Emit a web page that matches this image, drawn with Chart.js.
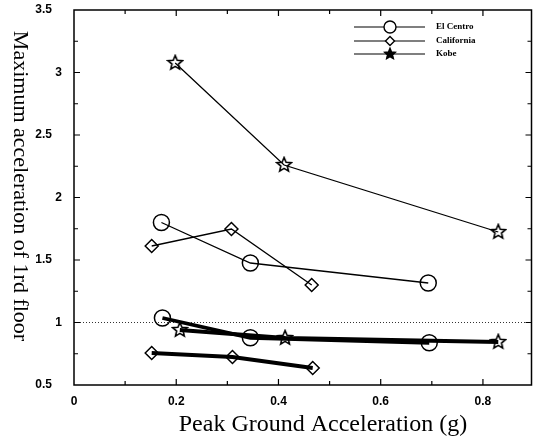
<!DOCTYPE html>
<html>
<head>
<meta charset="utf-8">
<script src="https://cdn.jsdelivr.net/npm/chart.js@4/dist/chart.umd.min.js"></script>
<style>
    html, body { margin: 0; padding: 0; background: #fff; }
    #wrap { width: 541px; height: 439px; }
</style>
</head>
<body>
<div id="wrap"><canvas id="chart"></canvas></div>
<script>
// axis ranges and tick labels
const X_MIN = 0, X_MAX = 0.895;
const Y_MIN = 0.5, Y_MAX = 3.5;
const xTicks = [0, 0.2, 0.4, 0.6, 0.8];
const yTicks = [0.5, 1, 1.5, 2, 2.5, 3, 3.5];

// series (upper = thin lines, lower = thick lines)
const elCentroX = [0.171, 0.345, 0.693];
const elCentroY = [1.80, 1.476, 1.316];
const elCentroLowX = [0.173, 0.345, 0.695];
const elCentroLowY = [1.036, 0.878, 0.838];

const californiaX = [0.152, 0.308, 0.465];
const californiaY = [1.612, 1.748, 1.30];
const californiaLowX = [0.152, 0.31, 0.467];
const californiaLowY = [0.756, 0.724, 0.636];

const kobeX = [0.198, 0.411, 0.830];
const kobeY = [3.076, 2.26, 1.724];
const kobeLowX = [0.207, 0.413, 0.830];
const kobeLowY = [0.94, 0.876, 0.844];

// dotted reference line at 1.0
const refX = [X_MIN, X_MAX];
const refY = [1, 1];

const legendNames = ['El Centro', 'California', 'Kobe'];

function pts(xs, ys) {
    return xs.map((x, i) => ({ x, y: ys[i] }));
}

function starImage(size, outer, inner, filled) {
    const c = document.createElement('canvas');
    c.width = size; c.height = size;
    const g = c.getContext('2d');
    const cx = size / 2, cy = size / 2;
    g.beginPath();
    for (let i = 0; i < 10; i++) {
        const r = i % 2 === 0 ? outer : inner;
        const a = -Math.PI / 2 + i * Math.PI / 5;
        const px = cx + r * Math.cos(a), py = cy + r * Math.sin(a);
        if (i === 0) g.moveTo(px, py); else g.lineTo(px, py);
    }
    g.closePath();
    g.lineWidth = 1.6;
    g.strokeStyle = '#000';
    if (filled) { g.fillStyle = '#000'; g.fill(); }
    g.stroke();
    return c;
}

const starPt = starImage(18, 7.5, 3.4, false);
const starLegend = starImage(14, 5.5, 2.5, true);

function series(label, xs, ys, style, radius, width) {
    return {
        label,
        data: pts(xs, ys),
        showLine: true,
        borderColor: '#000',
        borderWidth: width,
        backgroundColor: 'rgba(0,0,0,0)',
        pointStyle: style,
        pointRadius: radius,
        pointBorderWidth: 1.5,
        pointBorderColor: '#000',
        pointBackgroundColor: 'rgba(0,0,0,0)',
        tension: 0
    };
}

const datasets = [
    series('El Centro', elCentroX, elCentroY, 'circle', 8, 1.3),
    series('California', californiaX, californiaY, 'rectRot', 6.5, 1.3),
    series('Kobe', kobeX, kobeY, starPt, 8, 1.3),
    series('', elCentroLowX, elCentroLowY, 'circle', 8, 3.8),
    series('', californiaLowX, californiaLowY, 'rectRot', 6.5, 3.8),
    series('', kobeLowX, kobeLowY, starPt, 8, 3.8),
    {
        label: '',
        data: pts(refX, refY),
        showLine: true,
        borderColor: '#333',
        borderWidth: 1,
        borderDash: [1, 2],
        pointRadius: 0
    }
];

// box, inward ticks, tick labels, axis titles and legend
const framePlugin = {
    id: 'frame',
    afterDraw(chart) {
        const { ctx, chartArea: a, scales } = chart;
        const xs = scales.x, ys = scales.y;
        ctx.save();
        ctx.strokeStyle = '#000';
        ctx.lineWidth = 1.5;
        ctx.strokeRect(a.left, a.top, a.right - a.left, a.bottom - a.top);

        ctx.lineWidth = 1.2;
        ctx.beginPath();
        for (let v = 0.1; v < X_MAX; v += 0.1) {
            const px = xs.getPixelForValue(v);
            const major = Math.abs(v / 0.2 - Math.round(v / 0.2)) < 1e-6;
            const len = major ? 6 : 4;
            ctx.moveTo(px, a.bottom); ctx.lineTo(px, a.bottom - len);
            ctx.moveTo(px, a.top); ctx.lineTo(px, a.top + len);
        }
        for (let v = Y_MIN + 0.25; v < Y_MAX; v += 0.25) {
            const py = ys.getPixelForValue(v);
            const major = Math.abs(v / 0.5 - Math.round(v / 0.5)) < 1e-6;
            const len = major ? 6 : 4;
            ctx.moveTo(a.left, py); ctx.lineTo(a.left + len, py);
            ctx.moveTo(a.right, py); ctx.lineTo(a.right - len, py);
        }
        ctx.stroke();

        // y tick labels (whole numbers sit further right, as in the figure)
        ctx.fillStyle = '#000';
        ctx.font = 'bold 12px "Liberation Sans"';
        ctx.textAlign = 'right';
        ctx.textBaseline = 'middle';
        yTicks.forEach(v => {
            const px = Number.isInteger(v) ? 62 : 52;
            ctx.fillText(String(v), px, ys.getPixelForValue(v));
        });

        // x title
        ctx.font = '24px "Liberation Serif"';
        ctx.textAlign = 'center';
        ctx.textBaseline = 'middle';
        ctx.fillText('Peak Ground Acceleration (g)', 323, 425);

        // y title, reading top to bottom
        ctx.font = '22px "Liberation Serif"';
        ctx.translate(20, 186);
        ctx.rotate(Math.PI / 2);
        ctx.fillText('Maximum acceleration of 1rd floor', 0, 0);
        ctx.restore();

        // legend
        ctx.save();
        const styles = ['circle', 'rectRot', 'star'];
        const rows = [27, 41, 54];
        legendNames.forEach((name, i) => {
            const y = rows[i];
            ctx.strokeStyle = '#000';
            ctx.lineWidth = 1.2;
            ctx.beginPath();
            ctx.moveTo(354, y); ctx.lineTo(425, y);
            ctx.stroke();
            ctx.lineWidth = 1.4;
            if (styles[i] === 'star') {
                ctx.drawImage(starLegend, 390 - 7, y - 7);
            } else {
                ctx.fillStyle = '#fff';
                Chart.helpers.drawPoint(ctx, { pointStyle: styles[i], radius: i === 0 ? 6 : 4.5, borderWidth: 1.4 }, 390, y);
            }
            ctx.fillStyle = '#000';
            ctx.font = 'bold 9px "Liberation Serif"';
            ctx.textBaseline = 'middle';
            ctx.textAlign = 'left';
            ctx.fillText(name, 436, y);
        });
        ctx.restore();
    }
};

new Chart(document.getElementById('chart'), {
    type: 'scatter',
    data: { datasets },
    plugins: [framePlugin],
    options: {
        responsive: true,
        maintainAspectRatio: false,
        animation: false,
        layout: { padding: { top: 10, right: 4, left: 0, bottom: 2 } },
        plugins: { legend: { display: false }, tooltip: { enabled: false } },
        scales: {
            x: {
                type: 'linear',
                min: X_MIN,
                max: X_MAX,
                afterBuildTicks: s => { s.ticks = xTicks.map(v => ({ value: v })); },
                afterFit: s => { s.height = 52; },
                grid: { display: false, drawTicks: false },
                border: { display: false },
                ticks: {
                    color: '#000',
                    padding: 9,
                    maxRotation: 0,
                    callback: v => String(v),
                    font: { family: 'Liberation Sans', weight: 'bold', size: 12 }
                }
            },
            y: {
                type: 'linear',
                min: Y_MIN,
                max: Y_MAX,
                afterBuildTicks: s => { s.ticks = yTicks.map(v => ({ value: v })); },
                afterFit: s => { s.width = 74; },
                grid: { display: false, drawTicks: false },
                border: { display: false },
                ticks: { display: false }
            }
        }
    }
});
</script>
</body>
</html>
